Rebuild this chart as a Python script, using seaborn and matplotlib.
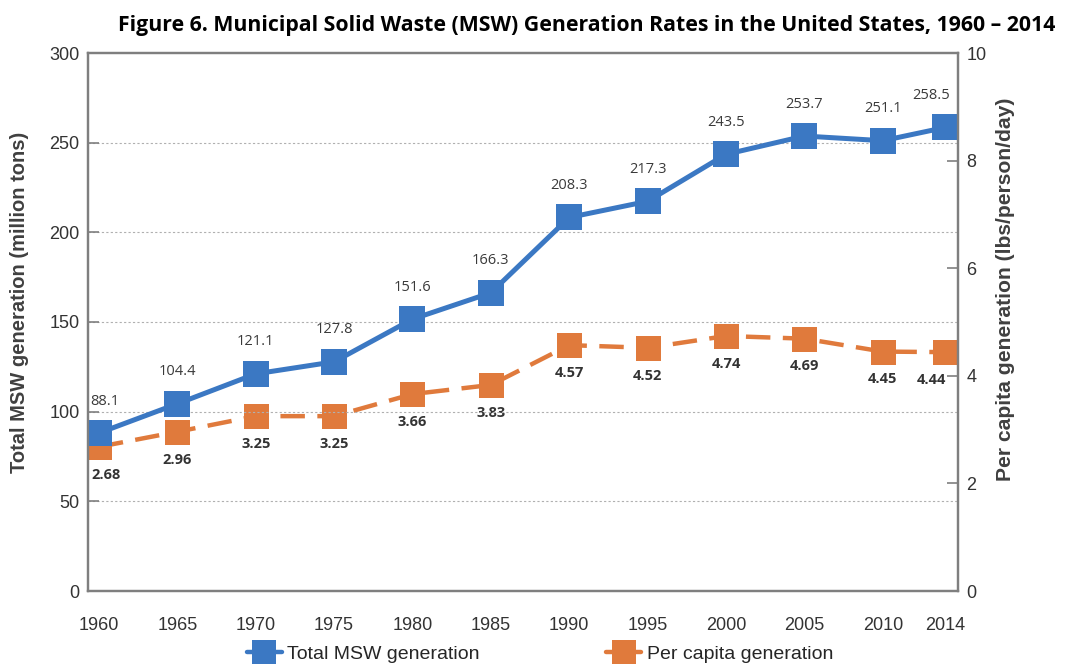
import matplotlib
matplotlib.use("Agg")
import matplotlib.pyplot as plt
import seaborn as sns
import pandas as pd
from matplotlib.lines import Line2D

years = [1960, 1965, 1970, 1975, 1980, 1985, 1990, 1995, 2000, 2005, 2010, 2014]
total_msw = [88.1, 104.4, 121.1, 127.8, 151.6, 166.3, 208.3, 217.3, 243.5, 253.7, 251.1, 258.5]
per_capita = [2.68, 2.96, 3.25, 3.25, 3.66, 3.83, 4.57, 4.52, 4.74, 4.69, 4.45, 4.44]
left_ticks = [0, 50, 100, 150, 200, 250, 300]
right_ticks = [0, 2, 4, 6, 8, 10]

title = "Figure 6. Municipal Solid Waste (MSW) Generation Rates in the United States, 1960 \u2013 2014"
left_label = "Total MSW generation (million tons)"
right_label = "Per capita generation (lbs/person/day)"
legend_labels = ["Total MSW generation", "Per capita generation"]

blue = "#3b78c3"
orange = "#e07a3c"
grey = "#7f7f7f"

sns.set_theme(style="white")
plt.rcParams["font.family"] = ["Liberation Sans", "DejaVu Sans"]

df = pd.DataFrame({"year": years, "total": total_msw, "per_capita": per_capita})

fig = plt.figure(figsize=(10.65, 6.68), dpi=100)
ax = fig.add_axes([88/1065, 1 - 591/668, (958-88)/1065, (591-53)/668])
ax2 = ax.twinx()

sns.lineplot(data=df, x="year", y="per_capita", ax=ax2, color=orange, marker="s",
             markersize=18, markeredgewidth=0, linewidth=3.2, linestyle=(0, (5.5, 2.8)))
sns.lineplot(data=df, x="year", y="total", ax=ax, color=blue, marker="s",
             markersize=19, markeredgewidth=0, linewidth=3.6)
ax.set_zorder(ax2.get_zorder() + 1)
ax.patch.set_visible(False)

ax.set_ylim(0, 300)
ax2.set_ylim(0, 10)
ax.set_xlim(1959.3, 2014.8)
ax.set_yticks(left_ticks)
ax2.set_yticks(right_ticks)
ax.set_xticks(years)
ax.set_xticklabels([str(y) for y in years])

for y in left_ticks[1:-1]:
    ax.axhline(y, color="#b0b0b0", linestyle=(0, (2, 2)), linewidth=0.8, zorder=0)

for a in (ax, ax2):
    for s in a.spines.values():
        s.set_color(grey)
        s.set_linewidth(1.6)
    a.tick_params(axis="y", direction="in", length=8, width=1.2, color=grey,
                  labelsize=13, labelcolor="#333333", pad=6)
ax.tick_params(axis="x", bottom=False, labelsize=13, labelcolor="#333333", pad=13)

ax.set_xlabel("")
ax.set_ylabel(left_label, fontsize=14.5, fontweight="bold", color="#404040")
ax.yaxis.set_label_coords((29 - 88) / 870, (591 - 302) / 538)
ax2.set_ylabel(right_label, fontsize=15.2, fontweight="bold", color="#404040")
ax2.yaxis.set_label_coords((996 - 88) / 870, (591 - 289) / 538)

for x, v in zip(years, total_msw):
    dx = 4 if x == 1960 else (-10 if x == 2014 else 0)
    ax.annotate(f"{v}", (x, v), xytext=(dx, 23), textcoords="offset points",
                ha="center", va="center", fontsize=10.5, color="#3a3a3a",
                family=["Open Sans", "DejaVu Sans"])
for x, v in zip(years, per_capita):
    dx = 5 if x == 1960 else (-10 if x == 2014 else 0)
    ax2.annotate(f"{v:.2f}", (x, v), xytext=(dx, -20), textcoords="offset points",
                 ha="center", va="center", fontsize=10.5, color="#333333",
                 family=["Open Sans", "DejaVu Sans"], fontweight="bold")

fig.suptitle(title, x=587/1065, y=1 - 26/668, fontsize=15.3, fontweight="bold",
             family=["Open Sans", "DejaVu Sans"], color="black", va="center")

handles = [Line2D([], [], color=blue, marker="s", markersize=17, markeredgewidth=0, linewidth=3.2),
           Line2D([], [], color=orange, marker="s", markersize=17, markeredgewidth=0, linewidth=3.2)]
fig.legend(handles, legend_labels, loc="center", bbox_to_anchor=(540/1065, 1 - 654/668), ncol=2,
           frameon=False, handlelength=1.8, columnspacing=6.5, handletextpad=0.3,
           prop={"size": 14})

fig.savefig("out.png", dpi=100)
